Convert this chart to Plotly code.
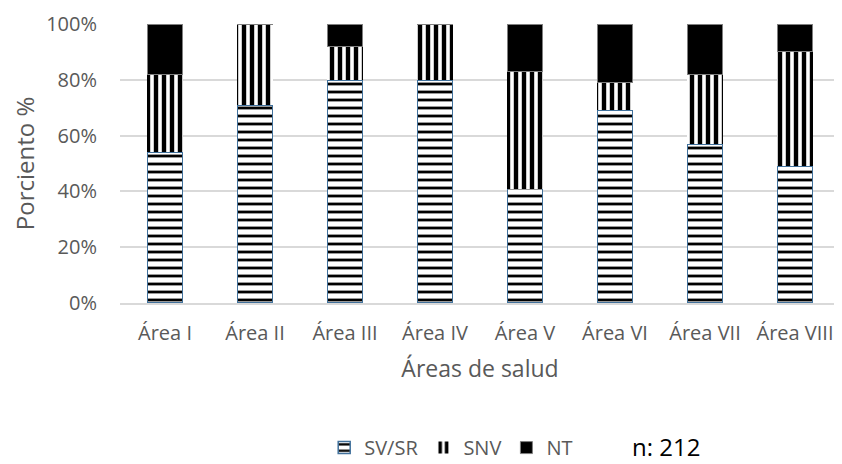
import plotly.graph_objects as go

categories = ["Área I", "Área II", "Área III", "Área IV", "Área V", "Área VI", "Área VII", "Área VIII"]
sv_sr = [54, 71, 80, 80, 41, 69, 57, 49]
snv = [28, 29, 12, 20, 42, 10, 25, 41]
nt = [18, 0, 8, 0, 17, 21, 18, 10]
y_ticks = [0, 20, 40, 60, 80, 100]
y_tick_labels = ["0%", "20%", "40%", "60%", "80%", "100%"]

FONT = "Open Sans, Liberation Sans, sans-serif"
GRAY = "#595959"

fig = go.Figure()
fig.add_trace(go.Bar(
    x=categories, y=sv_sr, name="SV/SR",
    marker=dict(color="white", line=dict(color="#41719C", width=1.5),
                pattern=dict(shape="-", fgcolor="black", bgcolor="white", fgopacity=1,
                             size=8, solidity=0.35)),
))
fig.add_trace(go.Bar(
    x=categories, y=snv, name="SNV",
    marker=dict(color="white", line=dict(color="white", width=0),
                pattern=dict(shape="|", fgcolor="black", bgcolor="white", fgopacity=1,
                             size=8, solidity=0.55)),
))
fig.add_trace(go.Bar(
    x=categories, y=nt, name="NT",
    marker=dict(color="black", line=dict(color="#7f7f7f", width=1)),
))

fig.update_layout(
    barmode="stack",
    bargap=0.61,
    width=834, height=456,
    margin=dict(l=112, r=2, t=16, b=161),
    plot_bgcolor="white", paper_bgcolor="white",
    font=dict(family=FONT, size=20, color=GRAY),
    showlegend=True,
    legend=dict(orientation="h", x=0.46, xanchor="center", xref="paper",
                y=0.036, yanchor="middle", yref="container",
                font=dict(size=20, color=GRAY), itemwidth=30, traceorder="normal",
                tracegroupgap=0),
    xaxis=dict(title=dict(text="Áreas de salud", font=dict(size=23, color=GRAY), standoff=16),
               automargin=False,
               showgrid=False, showline=True, linecolor="#D9D9D9", linewidth=1.5,
               tickfont=dict(size=20, color=GRAY), ticks="outside", ticklen=11, tickcolor="rgba(0,0,0,0)"),
    yaxis=dict(title=dict(text="Porciento %", font=dict(size=24, color=GRAY), standoff=12),
               automargin=False,
               range=[0, 100], tickvals=y_ticks, ticktext=y_tick_labels,
               showgrid=True, gridcolor="#D9D9D9", gridwidth=1.5, zeroline=False,
               tickfont=dict(size=20, color=GRAY), ticks="outside", ticklen=18, tickcolor="rgba(0,0,0,0)"),
    annotations=[dict(text="n: 212", xref="paper", yref="paper", x=0.758, y=-0.515,
                      xanchor="center", yanchor="middle", showarrow=False,
                      font=dict(size=24, color="black", family=FONT))],
)

fig.write_html("out.html")
